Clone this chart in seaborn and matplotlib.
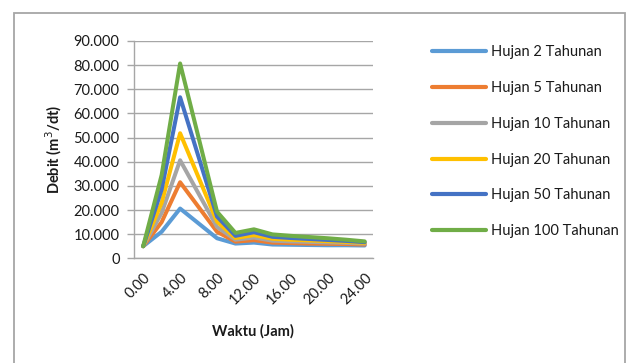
import matplotlib
matplotlib.use("Agg")
import matplotlib.pyplot as plt
from matplotlib.patches import Rectangle
from matplotlib.ticker import FuncFormatter
import seaborn as sns
import pandas as pd

# Hydrograph data: time (hours) and discharge for each return period
hours = [0, 2, 4, 8, 10, 12, 14, 16, 18, 20, 22, 24]
q_2 = [5000, 11000, 20600, 8300, 6100, 6500, 5700, 5600, 5500, 5400, 5400, 5300]
q_5 = [5000, 15000, 31500, 11000, 6900, 7500, 6500, 6300, 6100, 6000, 5900, 5700]
q_10 = [5000, 18800, 40600, 13000, 7700, 8600, 7300, 7000, 6800, 6600, 6400, 6100]
q_20 = [5000, 23000, 51800, 15200, 8400, 9600, 8100, 7700, 7400, 7100, 6800, 6400]
q_50 = [5000, 28500, 66700, 17300, 9300, 10800, 8900, 8400, 8000, 7600, 7200, 6700]
q_100 = [5000, 34500, 80700, 19300, 10500, 12000, 9900, 9300, 8800, 8300, 7700, 7000]

series_names = ["Hujan 2 Tahunan", "Hujan 5 Tahunan", "Hujan 10 Tahunan",
                "Hujan 20 Tahunan", "Hujan 50 Tahunan", "Hujan 100 Tahunan"]
series_values = [q_2, q_5, q_10, q_20, q_50, q_100]
colors = ["#5B9BD5", "#ED7D31", "#A5A5A5", "#FFC000", "#4472C4", "#70AD47"]

x_ticks = [0, 4, 8, 12, 16, 20, 24]
y_ticks = [0, 10000, 20000, 30000, 40000, 50000, 60000, 70000, 80000, 90000]

df = pd.concat(
    [pd.DataFrame({"Waktu": hours, "Debit": v, "Seri": n})
     for n, v in zip(series_names, series_values)],
    ignore_index=True,
)

sns.set_theme(style="white")
plt.rcParams["font.family"] = ["Lato", "DejaVu Sans"]

W, H = 628, 363
FS = 10.5
fig = plt.figure(figsize=(W / 100, H / 100), dpi=100)
fig.patch.set_facecolor("white")

# chart-area frame
fig.add_artist(Rectangle((13.5 / W, -0.05), (625 - 13.5) / W, 1.05 - 12.5 / H,
                         transform=fig.transFigure, fill=False,
                         edgecolor="#A6A6A6", linewidth=1.3))

ax = fig.add_axes([133.5 / W, 1 - 258.3 / H, (373 - 133.5) / W, (258.3 - 41) / H])

sns.lineplot(data=df, x="Waktu", y="Debit", hue="Seri", hue_order=series_names,
             palette=colors, linewidth=2.9, ax=ax, legend=True, sort=False)

ax.set_xlim(-1.05, 24.9)
ax.set_ylim(0, 90000)
ax.set_xticks(x_ticks)
ax.xaxis.set_major_formatter(FuncFormatter(lambda v, p: f"{v:.2f}"))
ax.set_yticks(y_ticks)
ax.yaxis.set_major_formatter(
    FuncFormatter(lambda v, p: f"{int(v):,}".replace(",", ".")))

ax.grid(axis="y", color="#A6A6A6", linewidth=1.0)
ax.set_axisbelow(True)
for side in ["top", "right"]:
    ax.spines[side].set_visible(False)
for side in ["left", "bottom"]:
    ax.spines[side].set_color("#A6A6A6")
    ax.spines[side].set_linewidth(1.0)

ax.tick_params(axis="y", length=5, color="#A6A6A6", width=1.0, pad=5,
               labelsize=FS, labelcolor="#1a1a1a", left=True)
ax.tick_params(axis="x", length=0, pad=9, labelsize=FS, labelcolor="#1a1a1a")
for lbl in ax.get_xticklabels():
    lbl.set_rotation(45)
    lbl.set_ha("right")
    lbl.set_va("top")
    lbl.set_rotation_mode("anchor")

ax.set_xlabel("Waktu (Jam)", fontsize=FS, fontweight="bold", color="#1a1a1a",
              labelpad=12)
ax.set_ylabel("Debit (m$^3$/dt)", fontsize=FS, fontweight="bold", color="#1a1a1a",
              labelpad=7)

leg = ax.legend(loc="upper left", bbox_to_anchor=(432 / W, 1 - 45 / H),
                bbox_transform=fig.transFigure, frameon=False, fontsize=FS,
                handlelength=3.7, handletextpad=0.35, labelspacing=1.5,
                borderpad=0, borderaxespad=0)
for line in leg.get_lines():
    line.set_linewidth(3.0)
for t in leg.get_texts():
    t.set_color("#1a1a1a")

fig.savefig("out.png", dpi=100, facecolor="white")
